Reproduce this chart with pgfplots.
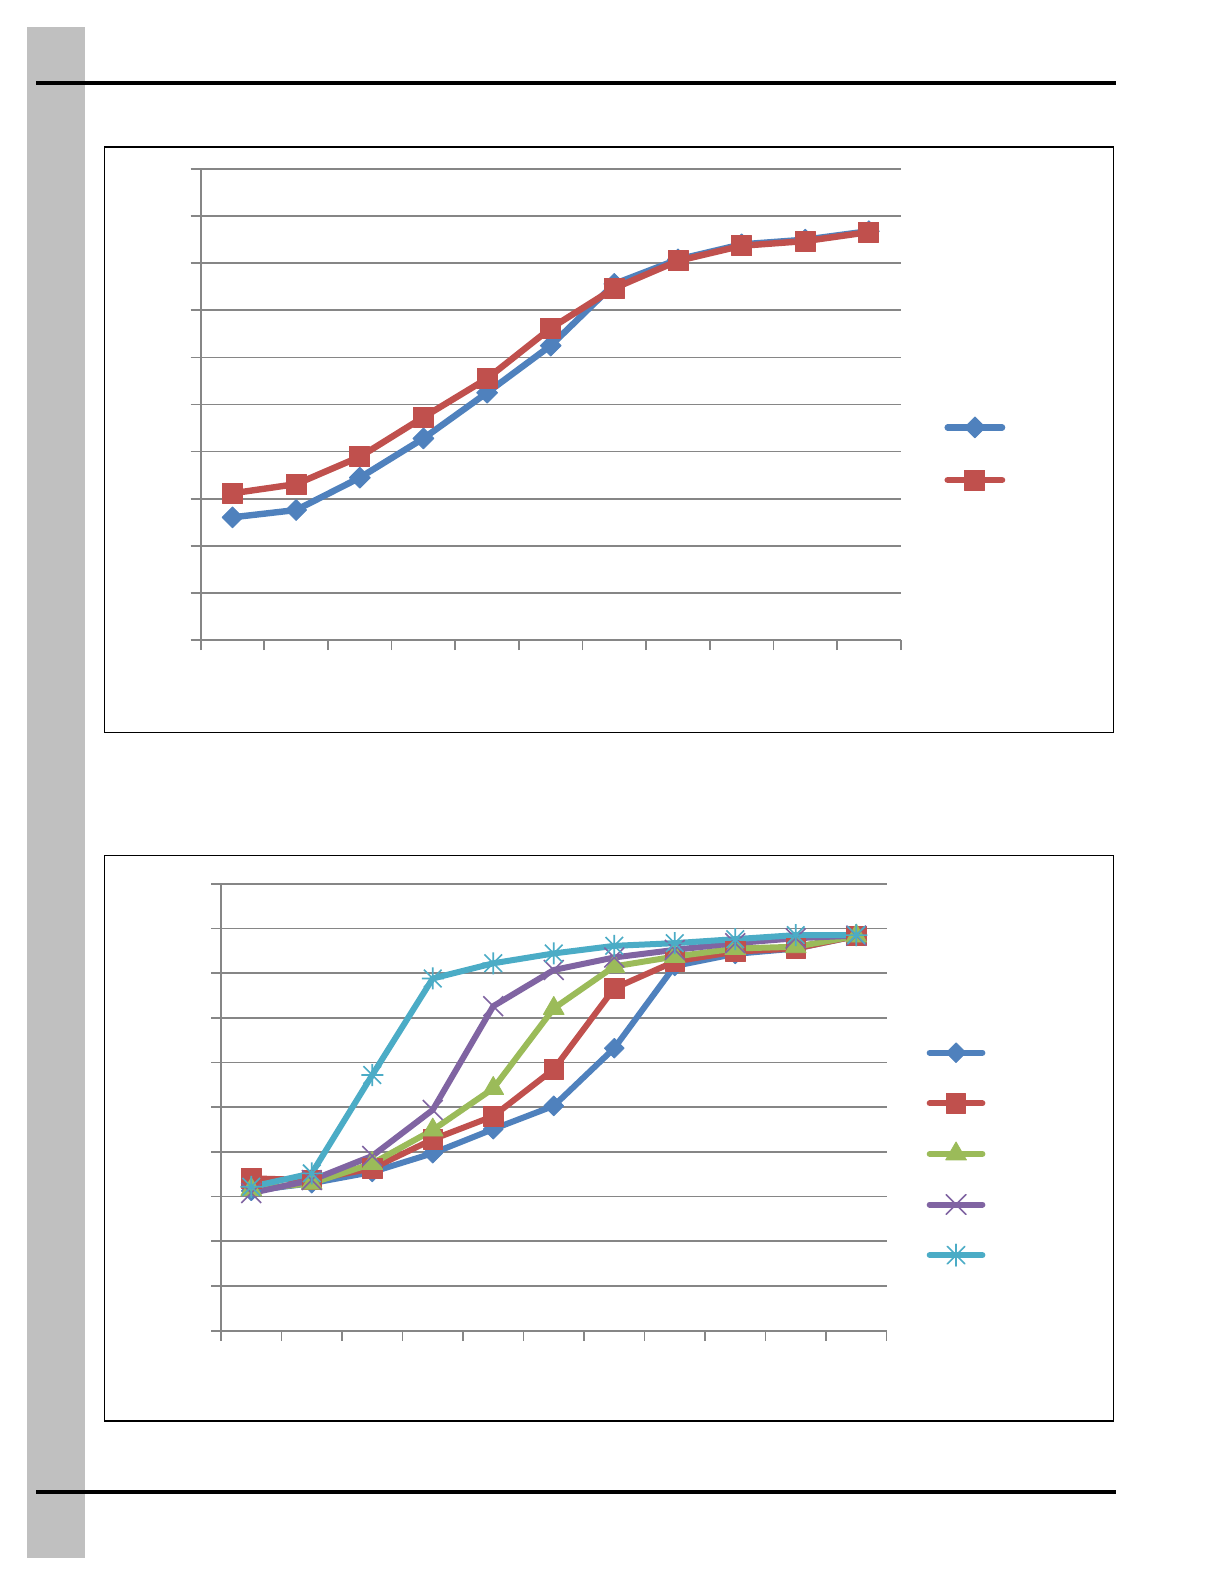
\documentclass[border=0pt]{standalone}
\usepackage{pgfplots}
\pgfplotsset{compat=1.18}
\usepackage{pgfplotstable}
\definecolor{xblue}{HTML}{4F81BD}
\definecolor{xred}{HTML}{C0504D}
\definecolor{xgreen}{HTML}{9BBB59}
\definecolor{xpurple}{HTML}{8064A2}
\definecolor{xcyan}{HTML}{4BACC6}
\definecolor{gridg}{HTML}{868686}
\definecolor{barg}{HTML}{C0C0C0}
\pgfdeclareplotmark{xstar}{%
  \pgfpathmoveto{\pgfqpoint{0pt}{\pgfplotmarksize}}%
  \pgfpathlineto{\pgfqpoint{0pt}{-\pgfplotmarksize}}%
  \pgfpathmoveto{\pgfqpoint{-.8\pgfplotmarksize}{-.8\pgfplotmarksize}}%
  \pgfpathlineto{\pgfqpoint{.8\pgfplotmarksize}{.8\pgfplotmarksize}}%
  \pgfpathmoveto{\pgfqpoint{-.8\pgfplotmarksize}{.8\pgfplotmarksize}}%
  \pgfpathlineto{\pgfqpoint{.8\pgfplotmarksize}{-.8\pgfplotmarksize}}%
  \pgfpathmoveto{\pgfqpoint{-\pgfplotmarksize}{0pt}}%
  \pgfpathlineto{\pgfqpoint{\pgfplotmarksize}{0pt}}%
  \pgfusepathqstroke
}
\pgfplotstableread{
x    blue  red
0.5  26.05 31.15
1.5  27.6  33.1
2.5  34.46 38.9
3.5  42.8  47.3
4.5  52.5  55.5
5.5  62.5  66.2
6.5  75.6  74.7
7.5  80.8  80.5
8.5  84.0  83.7
9.5  85.0  84.7
10.5 86.8  86.6
}\tabA
\pgfplotstableread{
x    blue red  green purple cyan
0.5  31.3 34.1 31.6  30.8   32.2
1.5  33.0 33.7 33.0  33.7   35.2
2.5  35.5 36.3 37.4  39.1   57.2
3.5  39.7 42.8 44.9  49.4   78.8
4.5  45.1 48.0 54.2  72.6   82.2
5.5  50.3 58.5 72.1  80.7   84.4
6.5  63.2 76.6 81.5  83.5   86.1
7.5  81.6 82.6 83.7  85.2   86.7
8.5  84.3 84.8 85.5  86.7   87.6
9.5  85.5 85.5 85.9  87.8   88.5
10.5 88.3 88.3 88.3  88.4   88.5
}\tabB
\pgfplotsset{
  xlchart/.style={
    scale only axis,
    xmin=0, xmax=11, ymin=0, ymax=100,
    xtick={0,1,...,11}, ytick={0,10,...,100},
    xticklabels={}, yticklabels={},
    axis x line*=bottom, axis y line*=left,
    axis line style={-, draw=gridg, line width=0.85pt},
    tick align=outside, major tick length=5pt,
    tick style={draw=gridg, line width=0.85pt},
    ymajorgrids=true,
    major grid style={draw=gridg, line width=0.85pt},
    clip=false,
    legend cell align=left,
    legend style={anchor=center, draw=none, fill=none, inner sep=0pt, outer sep=0pt,
      row sep=0pt, column sep=0pt, nodes={inner sep=0pt, outer sep=0pt}},
  },
}
\begin{document}
\begin{tikzpicture}
\begin{scope}[x=0.5pt,y=-0.5pt]
\fill[white] (0,0) rectangle (1225,1585);
\fill[barg] (27,27) rectangle (85,1558);
\fill[black] (36,81) rectangle (1115.7,85);
\fill[black] (36,1490) rectangle (1115.7,1494);
\draw[black, line width=0.7pt] (104.3,147) rectangle (1113.3,732.3);
\draw[black, line width=0.7pt] (104.3,855.3) rectangle (1113.3,1421);
\end{scope}
% chart 1
\begin{axis}[xlchart,
  at={(100.35pt,-320pt)}, anchor=south west,
  width=350pt, height=235.5pt,
  legend style={at={(1.1074,0.3955)}},
  legend image code/.code={%
    \path[draw=none,fill=none] (0pt,-13.17pt) rectangle (30.5pt,13.17pt);
    \draw[mark repeat=2,mark phase=2,line cap=round,#1] plot coordinates {(1.65pt,0pt) (15.25pt,0pt) (28.85pt,0pt)};},
]
\addplot[xblue, line width=3.2pt, line join=round, mark=square*, mark size=3.7pt,
  mark options={rotate=45, fill=xblue, draw=xblue, line width=0.4pt}] table[x=x,y=blue] {\tabA};
\addlegendentry{}
\addplot[xred, line width=3.2pt, line join=round, mark=square*, mark size=5pt,
  mark options={fill=xred, draw=xred, line width=0.4pt}] table[x=x,y=red] {\tabA};
\addlegendentry{}
\end{axis}
% chart 2
\begin{axis}[xlchart,
  at={(110.5pt,-665.35pt)}, anchor=south west,
  width=332.75pt, height=223.5pt,
  legend style={at={(1.106,0.3955)}},
  legend image code/.code={%
    \path[draw=none,fill=none] (0pt,-12.65pt) rectangle (29.35pt,12.65pt);
    \draw[mark repeat=2,mark phase=2,line cap=round,#1] plot coordinates {(1.5pt,0pt) (14.67pt,0pt) (27.85pt,0pt)};},
]
\addplot[xblue, line width=3pt, line join=round, mark=square*, mark size=3.5pt,
  mark options={rotate=45, fill=xblue, draw=xblue, line width=0.4pt}] table[x=x,y=blue] {\tabB};
\addlegendentry{}
\addplot[xred, line width=3pt, line join=round, mark=square*, mark size=4.9pt,
  mark options={fill=xred, draw=xred, line width=0.4pt}] table[x=x,y=red] {\tabB};
\addlegendentry{}
\addplot[xgreen, line width=3pt, line join=round, mark=triangle*, mark size=6pt,
  mark options={fill=xgreen, draw=xgreen, line width=0.4pt}] table[x=x,y=green] {\tabB};
\addlegendentry{}
\addplot[xpurple, line width=3pt, line join=round, mark=x, mark size=7pt,
  mark options={draw=xpurple, line width=0.8pt}] table[x=x,y=purple] {\tabB};
\addlegendentry{}
\addplot[xcyan, line width=3pt, line join=round, mark=xstar, mark size=5.5pt,
  mark options={draw=xcyan, line width=0.8pt}] table[x=x,y=cyan] {\tabB};
\addlegendentry{}
\end{axis}
\end{tikzpicture}
\end{document}
